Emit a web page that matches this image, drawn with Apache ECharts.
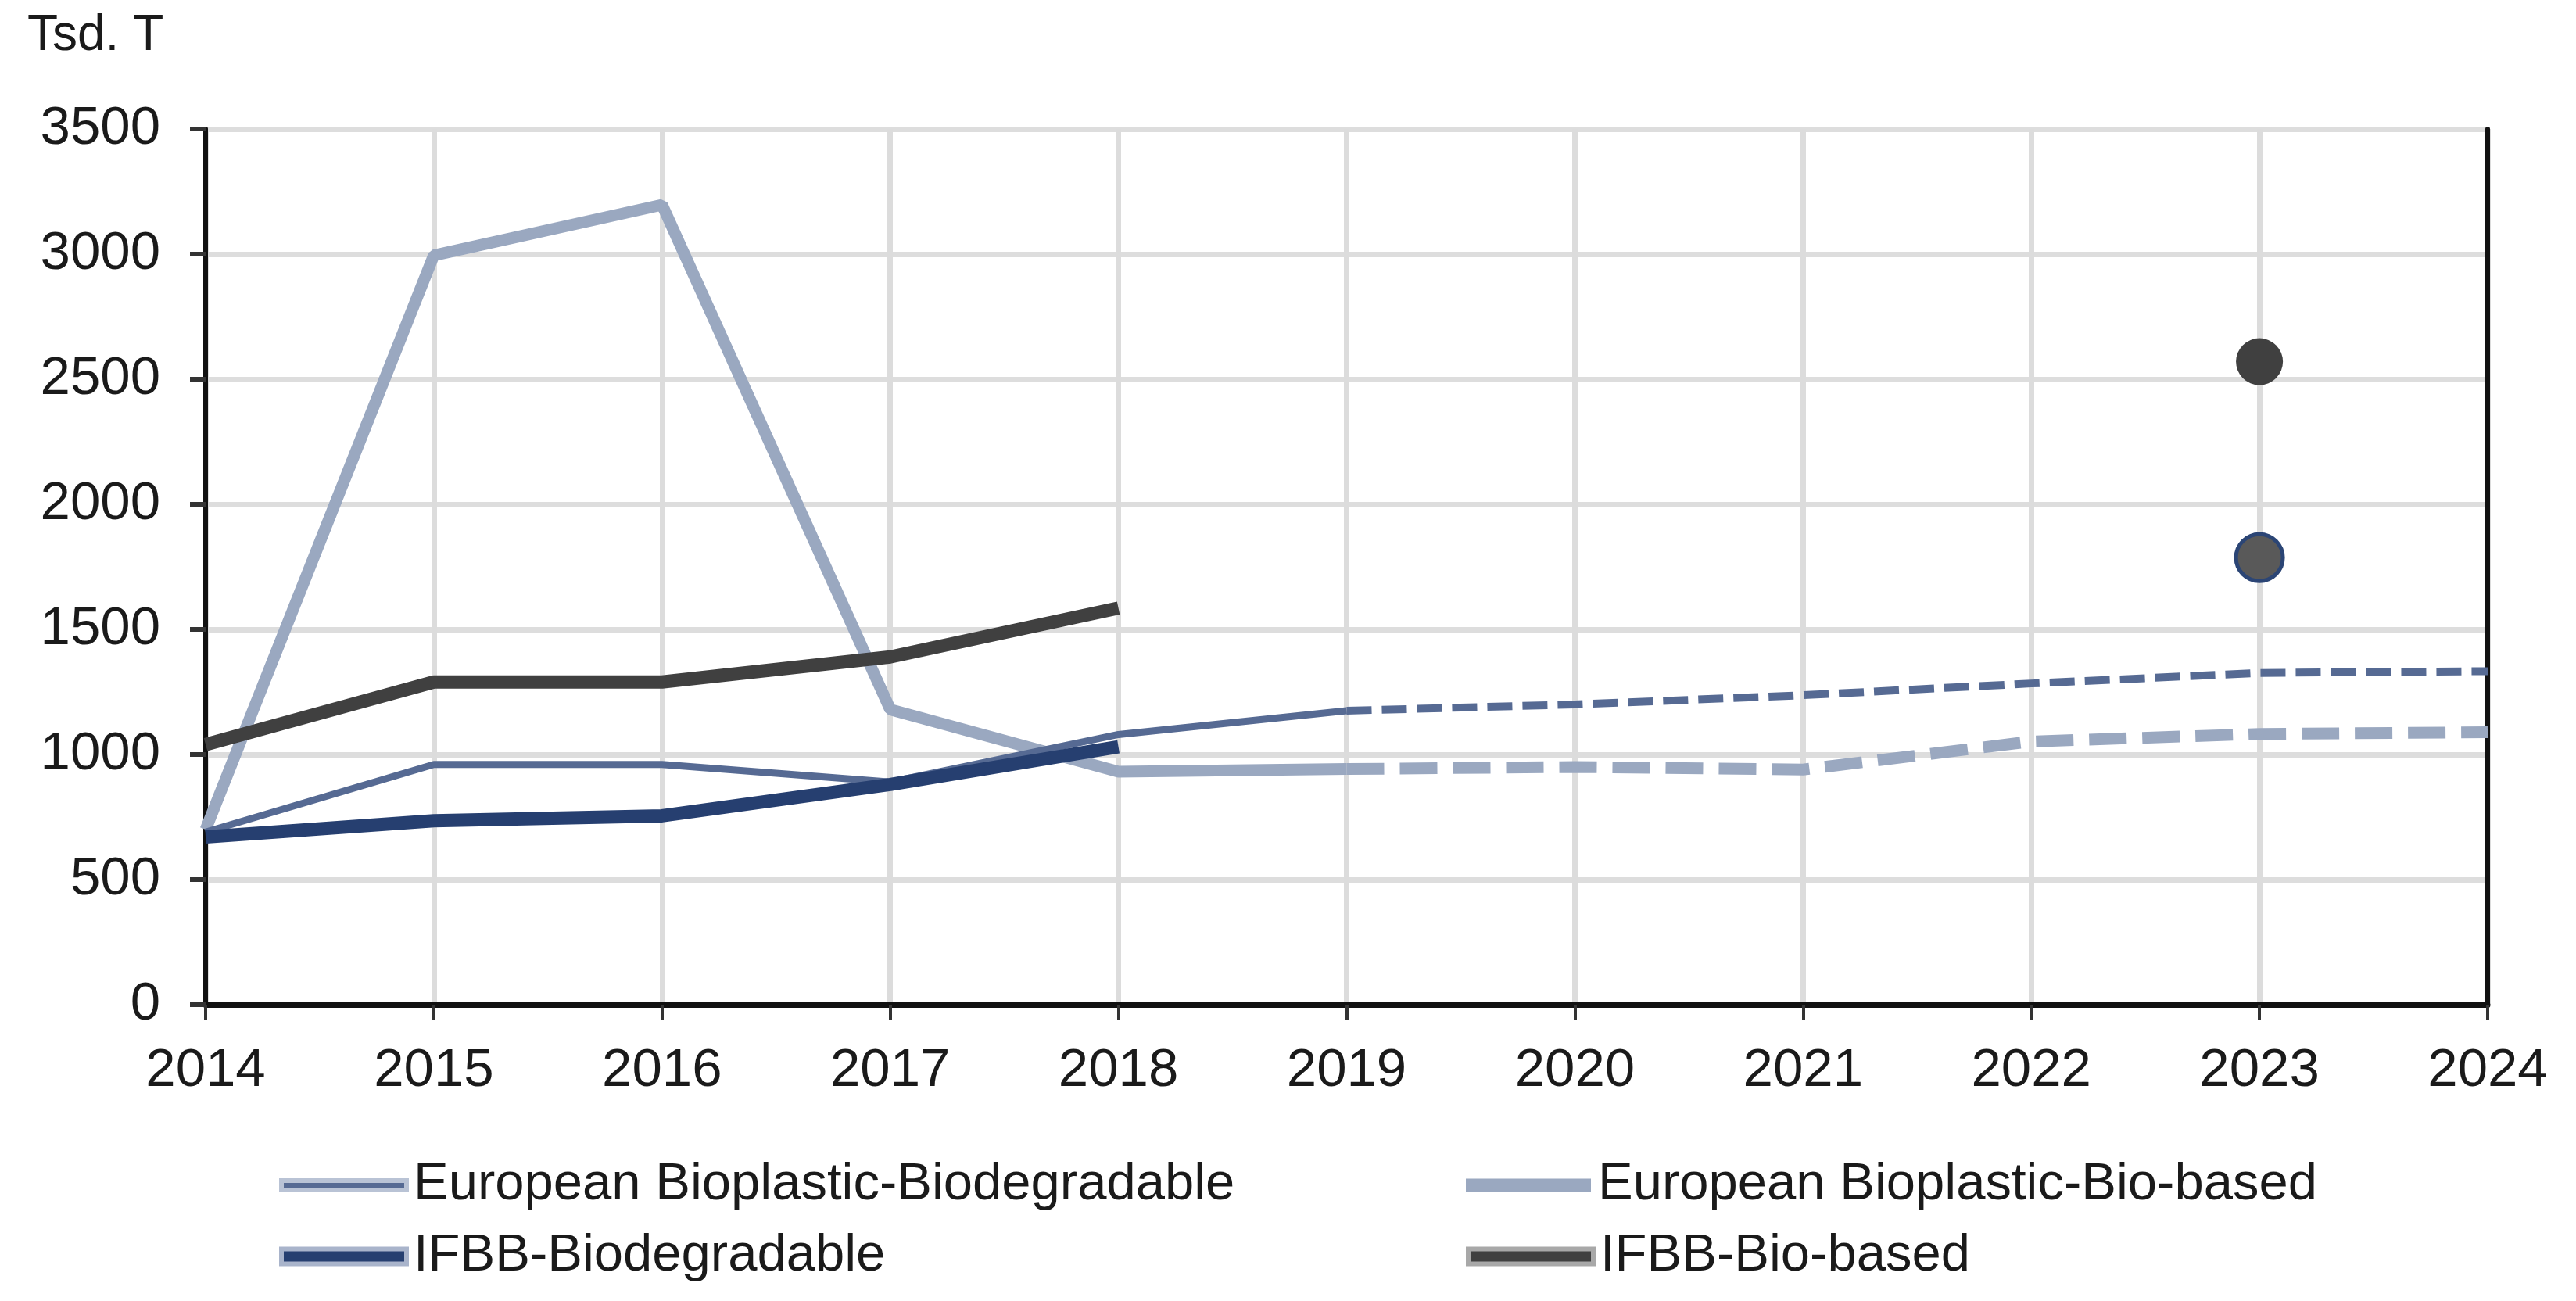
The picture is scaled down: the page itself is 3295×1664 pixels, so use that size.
<!DOCTYPE html>
<html>
<head>
<meta charset="utf-8">
<script src="https://cdn.jsdelivr.net/npm/echarts@6/dist/echarts.min.js"></script>
<style>
  html, body { margin: 0; padding: 0; background: #ffffff; }
  #chart { width: 3295px; height: 1664px; }
</style>
</head>
<body>
<div id="chart"></div>
<script>
// ---- data ----
const years = ['2014', '2015', '2016', '2017', '2018', '2019', '2020', '2021', '2022', '2023', '2024'];
const yTicks = { min: 0, max: 3500, interval: 500 };

const euBiodegActual   = [690, 960, 960, 890, 1080, 1175, null, null, null, null, null];
const euBiodegForecast = [null, null, null, null, null, 1175, 1200, 1237, 1284, 1326, 1333];

const euBiobasedActual   = [700, 2995, 3197, 1180, 931, 942, null, null, null, null, null];
const euBiobasedForecast = [null, null, null, null, null, 942, 950, 940, 1052, 1082, 1089];

const ifbbBiodeg   = [670, 735, 755, 880, 1031, null, null, null, null, null, null];
const ifbbBiobased = [1040, 1290, 1290, 1390, 1585, null, null, null, null, null, null];

const ifbbBiobasedPoint = [null, null, null, null, null, null, null, null, null, 2570, null];
const ifbbBiodegPoint   = [null, null, null, null, null, null, null, null, null, 1787, null];

const names = {
  euBiodeg: 'European Bioplastic-Biodegradable',
  euBiobased: 'European Bioplastic-Bio-based',
  ifbbBiodeg: 'IFBB-Biodegradable',
  ifbbBiobased: 'IFBB-Bio-based'
};

// ---- styles ----
const FONT = 'Liberation Sans, Arial, sans-serif';
const C = {
  euBiodeg: '#566a93',
  euBiobased: '#9aa8c0',
  ifbbBiodeg: '#263f70',
  ifbbBiobased: '#404040'
};

function legendAt(left, top, name, itemHeight, style) {
  return {
    left: left, top: top, orient: 'horizontal', padding: 0,
    itemWidth: 160, itemHeight: itemHeight, itemGap: 0,
    selectedMode: false,
    textStyle: { fontFamily: FONT, fontSize: 67, color: '#1a1a1a', lineHeight: 70, padding: [0, 0, 0, 4] },
    data: [{ name: name, icon: 'rect', itemStyle: style }]
  };
}

const chart = echarts.init(document.getElementById('chart'), null, { renderer: 'canvas' });

const frameAxis = {
  axisLine: { show: true, lineStyle: { color: '#111111', width: 6 } },
  axisTick: { show: false }, axisLabel: { show: false }, splitLine: { show: false }
};

const option = {
  animation: false,
  backgroundColor: '#ffffff',
  graphic: [{
    type: 'text', left: 35, top: 14,
    style: { text: 'Tsd. T', font: '64px ' + FONT, fill: '#1a1a1a' }
  }],
  legend: [
    legendAt(357, 1481, names.euBiodeg, 12, { color: C.euBiodeg, borderColor: '#b9c3d5', borderWidth: 6 }),
    legendAt(1875, 1481, names.euBiobased, 17, { color: C.euBiobased, borderWidth: 0 }),
    legendAt(357, 1572, names.ifbbBiodeg, 19, { color: C.ifbbBiodeg, borderColor: '#a9b4cb', borderWidth: 6 }),
    legendAt(1875, 1572, names.ifbbBiobased, 19, { color: C.ifbbBiobased, borderColor: '#a8a8a8', borderWidth: 6 })
  ],
  grid: {
    left: 263, right: 113, top: 165, bottom: 379,
    show: false
  },
  xAxis: [{
    type: 'category', data: years, boundaryGap: false,
    axisLine: { show: true, lineStyle: { color: '#111111', width: 7 } },
    axisTick: { show: true, inside: false, length: 20, alignWithLabel: true, lineStyle: { color: '#333333', width: 4 } },
    axisLabel: { fontFamily: FONT, fontSize: 69, color: '#1a1a1a', margin: 50, interval: 0 },
    splitLine: { show: true, lineStyle: { color: '#dcdcdc', width: 7 } }
  }, Object.assign({ type: 'category', data: years, boundaryGap: false, position: 'top' }, frameAxis)],
  yAxis: [{
    type: 'value', min: yTicks.min, max: yTicks.max, interval: yTicks.interval,
    axisLine: { show: true, lineStyle: { color: '#111111', width: 6 } },
    axisTick: { show: true, inside: false, length: 20, lineStyle: { color: '#333333', width: 6 } },
    axisLabel: { fontFamily: FONT, fontSize: 69, color: '#1a1a1a', margin: 58, formatter: function (v) { return String(v); } },
    splitLine: { show: true, lineStyle: { color: '#dddddd', width: 7 } }
  }, Object.assign({ type: 'value', min: yTicks.min, max: yTicks.max, interval: yTicks.interval, position: 'right' }, frameAxis)],
  series: [
    { name: names.euBiobased, type: 'line', data: euBiobasedActual, color: C.euBiobased,
      showSymbol: false, symbol: 'none',
      lineStyle: { color: C.euBiobased, width: 15 }, z: 2 },
    { name: 'euBiobasedForecast', type: 'line', data: euBiobasedForecast, color: C.euBiobased,
      showSymbol: false, symbol: 'none',
      lineStyle: { color: C.euBiobased, width: 15, type: [48, 20] }, z: 2 },
    { name: names.euBiodeg, type: 'line', data: euBiodegActual, color: C.euBiodeg,
      showSymbol: false, symbol: 'none',
      lineStyle: { color: C.euBiodeg, width: 9 }, z: 3 },
    { name: 'euBiodegForecast', type: 'line', data: euBiodegForecast, color: C.euBiodeg,
      showSymbol: false, symbol: 'none',
      lineStyle: { color: C.euBiodeg, width: 10, type: [32, 13] }, z: 3 },
    { name: names.ifbbBiodeg, type: 'line', data: ifbbBiodeg, color: C.ifbbBiodeg,
      showSymbol: false, symbol: 'none',
      lineStyle: { color: C.ifbbBiodeg, width: 17 }, z: 4 },
    { name: names.ifbbBiobased, type: 'line', data: ifbbBiobased, color: C.ifbbBiobased,
      showSymbol: false, symbol: 'none',
      lineStyle: { color: C.ifbbBiobased, width: 17 }, z: 4 },
    { name: 'ifbbBiobasedPoint', type: 'scatter', data: ifbbBiobasedPoint, symbol: 'circle', symbolSize: 60,
      itemStyle: { color: '#404040', opacity: 1 }, z: 5 },
    { name: 'ifbbBiodegPoint', type: 'scatter', data: ifbbBiodegPoint, symbol: 'circle', symbolSize: 60,
      itemStyle: { color: '#595959', borderColor: '#2b4575', borderWidth: 5, opacity: 1 }, z: 5 }
  ]
};

chart.setOption(option);
</script>
</body>
</html>
